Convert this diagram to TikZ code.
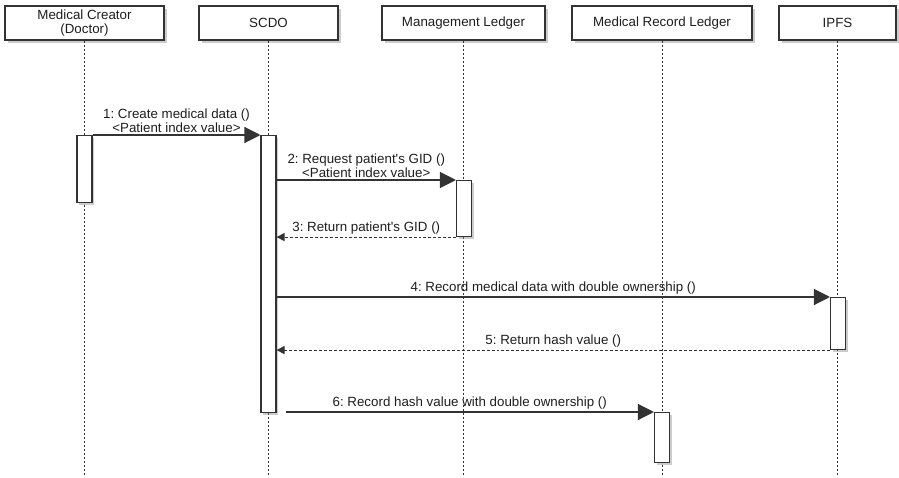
\documentclass[tikz,border=0pt]{standalone}
\usepackage{fontspec}
\setmainfont{Liberation Sans}
\usetikzlibrary{arrows.meta, shadows, calc}
\definecolor{seqline}{HTML}{333333}
\definecolor{seqtext}{HTML}{1E1E1E}
\newcommand{\pxu}{0.75pt}
\frenchspacing

\begin{document}
\begin{tikzpicture}[x=0.75pt, y=-0.75pt,
        part/.style={draw=seqline, fill=white, line width=0.9pt, text=seqtext,
          minimum height=34*\pxu, inner sep=1pt, align=center,
          font=\fontsize{10}{10.5}\selectfont,
          drop shadow={shadow xshift=2pt, shadow yshift=-2pt, opacity=0.4}},
        act/.style={draw=seqline, fill=white, line width=0.8pt, anchor=north,
          minimum width=15*\pxu, inner sep=0pt,
          drop shadow={shadow xshift=1.8pt, shadow yshift=-1.8pt, opacity=0.4}},
        life/.style={draw=seqline, line width=0.5pt, dash pattern=on 2pt off 1pt},
        msg/.style={draw=seqline, line width=0.9pt, -{Triangle[length=12pt, width=12pt]}},
        ret/.style={draw=seqline, line width=0.8pt, dash pattern=on 2.2pt off 1.5pt,
          -{Triangle[length=6pt, width=6pt]}},
        lbl/.style={font=\fontsize{10}{8.6}\selectfont, text=seqtext, align=center, inner sep=1.5pt}]
      \useasboundingbox (0,0) rectangle (899,478);

      % participants
      \node[part, minimum width=159*\pxu] (doc)  at (84.5,23)  {Medical Creator\\(Doctor)};
      \node[part, minimum width=139*\pxu] (scdo) at (268.5,23) {SCDO};
      \node[part, minimum width=163*\pxu] (mgmt) at (463.5,23) {Management Ledger};
      \node[part, minimum width=180*\pxu] (mrl)  at (662,23)   {Medical Record Ledger};
      \node[part, minimum width=117*\pxu] (ipfs) at (837.5,23) {IPFS};

      % lifelines
      \coordinate (bottom) at (0,476);
      \foreach \p in {doc,scdo,mgmt,mrl,ipfs}
        \draw[life] (\p.south) -- (\p.south |- bottom);

      % activation bars
      \node[act, minimum height=67*\pxu]  (a1) at (84.5,135)  {};
      \node[act, minimum height=277*\pxu] (a2) at (268.5,135) {};
      \node[act, minimum height=56*\pxu]  (a3) at (464,180)   {};
      \node[act, minimum height=52*\pxu]  (a4) at (838,297)   {};
      \node[act, minimum height=50*\pxu]  (a5) at (662,412)   {};

      % messages
      \draw[msg] (a1.north east) -- node[lbl, above]
        {1: Create medical data ()\\<Patient index value>} (a2.north west);
      \draw[msg] (a2.east |- a3.north) -- node[lbl, above]
        {2: Request patient\textquotesingle s GID ()\\<Patient index value>} (a3.north west);
      \draw[ret] (a3.south west) -- node[lbl, above]
        {3: Return patient\textquotesingle s GID ()} (a2.east |- a3.south);
      \draw[msg] (a2.east |- a4.north) -- node[lbl, above]
        {4: Record medical data with double ownership ()} (a4.north west);
      \draw[ret] (a4.south west) -- node[lbl, above]
        {5: Return hash value ()} (a2.east |- a4.south);
      \draw[msg] ($(a2.east |- a5.north)+(9,0)$) -- node[lbl, above]
        {6: Record hash value with double ownership ()} (a5.north west);
    \end{tikzpicture}
\end{document}
